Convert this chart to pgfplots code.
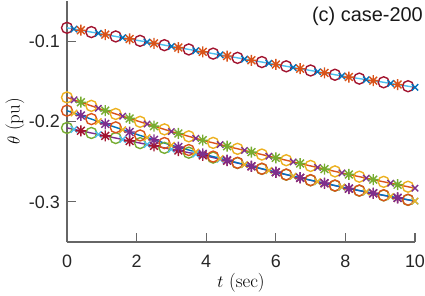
\documentclass[border=0pt]{standalone}
\usepackage{pgfplots}
\pgfplotsset{compat=1.18}
\usepackage{fontspec}
\usetikzlibrary{calc}
\newfontfamily\hv{Liberation Sans}
\definecolor{mblue}{RGB}{0,114,189}
\definecolor{morange}{RGB}{217,83,25}
\definecolor{myellow}{RGB}{237,177,32}
\definecolor{mpurple}{RGB}{126,47,142}
\definecolor{mgreen}{RGB}{119,172,48}
\definecolor{mlblue}{RGB}{77,190,238}
\definecolor{mdred}{RGB}{162,20,47}
\pgfdeclareplotmark{mstar}{%
 \pgfpathmoveto{\pgfqpoint{-\pgfplotmarksize}{0pt}}\pgfpathlineto{\pgfqpoint{\pgfplotmarksize}{0pt}}%
 \pgfpathmoveto{\pgfqpoint{0pt}{-\pgfplotmarksize}}\pgfpathlineto{\pgfqpoint{0pt}{\pgfplotmarksize}}%
 \pgfpathmoveto{\pgfqpoint{-0.7071\pgfplotmarksize}{-0.7071\pgfplotmarksize}}\pgfpathlineto{\pgfqpoint{0.7071\pgfplotmarksize}{0.7071\pgfplotmarksize}}%
 \pgfpathmoveto{\pgfqpoint{-0.7071\pgfplotmarksize}{0.7071\pgfplotmarksize}}\pgfpathlineto{\pgfqpoint{0.7071\pgfplotmarksize}{-0.7071\pgfplotmarksize}}%
 \pgfusepathqstroke}
\begin{document}
\begin{tikzpicture}
\begin{axis}[
  scale only axis, width=348bp, height=241bp,
  xmin=0, xmax=10, ymin=-0.35, ymax=-0.05,
  axis lines=left, axis line style={-, black!60, line width=1.1bp},
  tick align=inside, major tick length=9bp,
  tick style={black!60, line width=1.1bp},
  xtick={0,2,4,6,8,10}, xticklabels={0,2,4,6,8,10},
  ytick={-0.3,-0.2,-0.1}, yticklabels={-0.3,-0.2,-0.1},
  ticklabel style={font=\hv\fontsize{18}{21}\selectfont, text=black!85},
  xticklabel style={inner sep=0pt, anchor=north, yshift=-13bp},
  yticklabel style={inner sep=0pt, anchor=east, xshift=-7bp},
  xlabel={$t$ (sec)}, ylabel={$\theta$ (pu)},
  label style={font=\fontsize{19}{22}\selectfont},
  xlabel style={at={(axis description cs:0.5,0)}, anchor=base, inner sep=0pt, yshift=-45bp},
  ylabel style={at={(axis description cs:0,0.5)}, anchor=center, inner sep=0pt, yshift=52bp},
  clip=false,
  every axis plot/.append style={line width=1.4bp},
]
% lines (no markers)
\addplot[mpurple, no marks] coordinates {(0,-0.2080)(1,-0.2170)(2,-0.2260)(3,-0.2345)(4,-0.2430)(5,-0.2527)(6,-0.2632)(7,-0.2732)(8,-0.2827)(9,-0.2912)(10,-0.2992)};
\addplot[morange, no marks] coordinates {(0,-0.1700)(1,-0.1850)(2,-0.1990)(3,-0.2125)(4,-0.2245)(5,-0.2350)(6,-0.2452)(7,-0.2553)(8,-0.2650)(9,-0.2742)(10,-0.2830)};
\addplot[mlblue, no marks] coordinates {(0,-0.0834)(1,-0.0910)(2,-0.0988)(3,-0.1065)(4,-0.1140)(5,-0.1215)(6,-0.1290)(7,-0.1365)(8,-0.1440)(9,-0.1505)(10,-0.1575)};
\addplot[mblue, no marks] coordinates {(0,-0.1865)(1,-0.2015)(2,-0.2160)(3,-0.2295)(4,-0.2415)(5,-0.2525)(6,-0.2630)(7,-0.2730)(8,-0.2825)(9,-0.2910)(10,-0.2990)};
% o markers
\addplot[mgreen, only marks, mark=o, mark size=5.5bp] coordinates {(0,-0.2080)(0.7,-0.2143)(1.4,-0.2206)(2.1,-0.2269)(2.8,-0.2328)(3.5,-0.2388)(4.2,-0.2449)(4.9,-0.2517)(5.6,-0.2590)(6.3,-0.2662)(7.0,-0.2732)(7.7,-0.2799)(8.4,-0.2861)(9.1,-0.2920)(9.8,-0.2976)};
\addplot[morange, only marks, mark=o, mark size=5.5bp] coordinates {(0,-0.1865)(0.7,-0.1970)(1.4,-0.2073)(2.1,-0.2174)(2.8,-0.2268)(3.5,-0.2355)(4.2,-0.2437)(4.9,-0.2514)(5.6,-0.2588)(6.3,-0.2660)(7.0,-0.2730)(7.7,-0.2797)(8.4,-0.2859)(9.1,-0.2918)(9.8,-0.2974)};
\addplot[myellow, only marks, mark=o, mark size=5.5bp] coordinates {(0,-0.1700)(0.7,-0.1805)(1.4,-0.1906)(2.1,-0.2004)(2.8,-0.2098)(3.5,-0.2185)(4.2,-0.2266)(4.9,-0.2340)(5.6,-0.2411)(6.3,-0.2482)(7.0,-0.2553)(7.7,-0.2621)(8.4,-0.2687)(9.1,-0.2751)(9.8,-0.2812)};
\addplot[mdred, only marks, mark=o, mark size=5.5bp] coordinates {(0,-0.0834)(0.7,-0.0887)(1.4,-0.0941)(2.1,-0.0996)(2.8,-0.1050)(3.5,-0.1103)(4.2,-0.1155)(4.9,-0.1208)(5.6,-0.1260)(6.3,-0.1313)(7.0,-0.1365)(7.7,-0.1418)(8.4,-0.1466)(9.1,-0.1512)(9.8,-0.1561)};
% x markers
\addplot[mlblue, only marks, mark=x, mark size=4.5bp] coordinates {(0.2,-0.2098)(0.9,-0.2161)(1.6,-0.2224)(2.3,-0.2286)(3.0,-0.2345)(3.7,-0.2405)(4.4,-0.2469)(5.1,-0.2538)(5.8,-0.2611)(6.5,-0.2682)(7.2,-0.2751)(7.9,-0.2818)(8.6,-0.2878)(9.3,-0.2936)(10,-0.2992)};
\addplot[myellow, only marks, mark=x, mark size=4.5bp] coordinates {(0.2,-0.1895)(0.9,-0.2000)(1.6,-0.2102)(2.3,-0.2201)(3.0,-0.2295)(3.7,-0.2379)(4.4,-0.2459)(5.1,-0.2536)(5.8,-0.2609)(6.5,-0.2680)(7.2,-0.2749)(7.9,-0.2816)(8.6,-0.2876)(9.3,-0.2934)(10,-0.2990)};
\addplot[mpurple, only marks, mark=x, mark size=4.5bp] coordinates {(0.2,-0.1730)(0.9,-0.1835)(1.6,-0.1934)(2.3,-0.2031)(3.0,-0.2125)(3.7,-0.2209)(4.4,-0.2287)(5.1,-0.2360)(5.8,-0.2432)(6.5,-0.2503)(7.2,-0.2572)(7.9,-0.2640)(8.6,-0.2705)(9.3,-0.2768)(10,-0.2830)};
\addplot[mblue, only marks, mark=x, mark size=4.5bp] coordinates {(0.2,-0.0849)(0.9,-0.0902)(1.6,-0.0957)(2.3,-0.1011)(3.0,-0.1065)(3.7,-0.1118)(4.4,-0.1170)(5.1,-0.1223)(5.8,-0.1275)(6.5,-0.1328)(7.2,-0.1380)(7.9,-0.1433)(8.6,-0.1479)(9.3,-0.1526)(10,-0.1575)};
% * markers
\addplot[mdred, only marks, mark=mstar, mark size=5.5bp] coordinates {(0.4,-0.2116)(1.1,-0.2179)(1.8,-0.2242)(2.5,-0.2303)(3.2,-0.2362)(3.9,-0.2422)(4.6,-0.2488)(5.3,-0.2559)(6.0,-0.2632)(6.7,-0.2702)(7.4,-0.2770)(8.1,-0.2836)(8.8,-0.2895)(9.5,-0.2952)};
\addplot[mpurple, only marks, mark=mstar, mark size=5.5bp] coordinates {(0.4,-0.1925)(1.1,-0.2030)(1.8,-0.2131)(2.5,-0.2228)(3.2,-0.2319)(3.9,-0.2403)(4.6,-0.2481)(5.3,-0.2557)(6.0,-0.2630)(6.7,-0.2700)(7.4,-0.2768)(8.1,-0.2834)(8.8,-0.2893)(9.5,-0.2950)};
\addplot[mgreen, only marks, mark=mstar, mark size=5.5bp] coordinates {(0.4,-0.1760)(1.1,-0.1864)(1.8,-0.1962)(2.5,-0.2058)(3.2,-0.2149)(3.9,-0.2233)(4.6,-0.2308)(5.3,-0.2381)(6.0,-0.2452)(6.7,-0.2523)(7.4,-0.2592)(8.1,-0.2659)(8.8,-0.2724)(9.5,-0.2786)};
\addplot[morange, only marks, mark=mstar, mark size=5.5bp] coordinates {(0.4,-0.0864)(1.1,-0.0918)(1.8,-0.0972)(2.5,-0.1027)(3.2,-0.1080)(3.9,-0.1133)(4.6,-0.1185)(5.3,-0.1238)(6.0,-0.1290)(6.7,-0.1343)(7.4,-0.1395)(8.1,-0.1447)(8.8,-0.1492)(9.5,-0.1540)};
\node[anchor=north east, inner sep=0pt, font=\hv\fontsize{20}{24}\selectfont, text=black!90] at ([xshift=8bp,yshift=-6bp]rel axis cs:1,1) {(c) case-200};
\end{axis}
\path ($(current axis.south west)+(-67bp,-54bp)$) rectangle ($(current axis.north east)+(10bp,1bp)$);
\end{tikzpicture}
\end{document}
